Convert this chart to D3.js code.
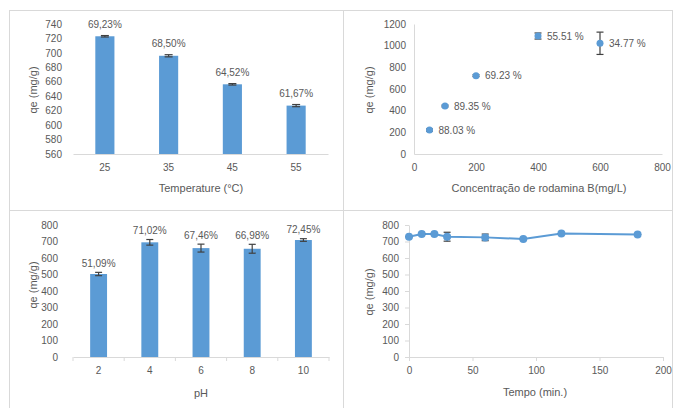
<!DOCTYPE html>
<html>
<head>
<meta charset="utf-8">
<script src="https://cdn.jsdelivr.net/npm/d3@7"></script>
<style>
  body { margin: 0; background: #fff; }
  svg text { font-family: "Liberation Sans", Arial, sans-serif; fill: #595959; }
</style>
</head>
<body>
<div id="chart"></div>
<script>
// panel (a) temperature
const temps = ["25", "35", "45", "55"];
const tempQe = [723, 696, 656.5, 627];
const tempErr = [1, 1.5, 1, 1.5];
const tempPct = ["69,23%", "68,50%", "64,52%", "61,67%"];
const tempTicks = [560, 580, 600, 620, 640, 660, 680, 700, 720, 740];

// panel (b) concentration
const conc = [50, 100, 200, 400, 600];
const concQe = [221, 443, 723, 1089, 1022];
const concErr = [10, 8, 8, 28, 103];
const concPct = ["88.03 %", "89.35 %", "69.23 %", "55.51 %", "34.77 %"];

// panel (c) pH
const phs = ["2", "4", "6", "8", "10"];
const phQe = [503, 695, 660, 656, 709];
const phErr = [10, 17, 24, 27, 8];
const phPct = ["51,09%", "71,02%", "67,46%", "66,98%", "72,45%"];

// panel (d) time
const times = [0, 10, 20, 30, 60, 90, 120, 180];
const timeQe = [729, 745, 745, 729, 725, 715, 748, 742];
const timeErr = [4, 4, 4, 27, 20, 4, 4, 4];

const W = 677, H = 408;
const blue = "#5B9BD5", errCol = "#404040", lineCol = "#d9d9d9";

const svg = d3.select("#chart").append("svg")
  .attr("width", W).attr("height", H);

// panel frames
const frames = [[9, 10, 343, 210], [343, 10, 672, 210], [9, 210, 343, 410], [343, 210, 672, 410]];
svg.selectAll("rect.frame").data(frames).join("rect")
  .attr("class", "frame")
  .attr("x", d => d[0] + 0.5).attr("y", d => d[1] + 0.5)
  .attr("width", d => d[2] - d[0]).attr("height", d => d[3] - d[1])
  .attr("fill", "none").attr("stroke", lineCol);

function styleAxis(g) {
  g.selectAll(".domain").attr("stroke", lineCol);
  g.selectAll(".tick line").attr("stroke", lineCol);
  g.selectAll(".tick text").attr("fill", "#595959").style("font-size", "10px")
    .style("font-family", "Liberation Sans, Arial, sans-serif");
}

function yTitle(x, y, txt) {
  svg.append("text").attr("transform", `translate(${x},${y}) rotate(-90)`)
    .attr("text-anchor", "middle").attr("dy", "0.35em")
    .style("font-size", "11px").text(txt);
}
function xTitle(x, y, txt) {
  svg.append("text").attr("x", x).attr("y", y).attr("text-anchor", "middle")
    .attr("dy", "0.35em").style("font-size", "11px").text(txt);
}

function errorBars(g, xs, ys, es, y, cap) {
  const eb = g.append("g").attr("stroke", errCol).attr("stroke-width", 1.2);
  xs.forEach((xv, i) => {
    const y1 = y(ys[i] + es[i]), y2 = y(ys[i] - es[i]);
    eb.append("line").attr("x1", xv).attr("x2", xv).attr("y1", y1).attr("y2", y2);
    eb.append("line").attr("x1", xv - cap).attr("x2", xv + cap).attr("y1", y1).attr("y2", y1);
    eb.append("line").attr("x1", xv - cap).attr("x2", xv + cap).attr("y1", y2).attr("y2", y2);
  });
}

// ---------- panel (a) ----------
{
  const x = d3.scaleBand().domain(temps).range([73, 328]).paddingInner(0.7).paddingOuter(0.35);
  const y = d3.scaleLinear().domain([560, 740]).range([154, 24]);
  const gx = svg.append("g").attr("transform", "translate(0,154)")
    .call(d3.axisBottom(x).tickSize(0).tickPadding(10));
  styleAxis(gx);
  const gy = svg.append("g").attr("transform", "translate(66,0)")
    .call(d3.axisLeft(y).tickValues(tempTicks).tickSize(0).tickPadding(4));
  gy.select(".domain").remove();
  styleAxis(gy);
  svg.append("g").selectAll("rect").data(temps).join("rect")
    .attr("x", d => x(d)).attr("width", x.bandwidth())
    .attr("y", (d, i) => y(tempQe[i])).attr("height", (d, i) => 154 - y(tempQe[i]))
    .attr("fill", blue);
  errorBars(svg, temps.map(d => x(d) + x.bandwidth() / 2), tempQe, tempErr, y, 4);
  svg.append("g").selectAll("text").data(tempPct).join("text")
    .attr("x", (d, i) => x(temps[i]) + x.bandwidth() / 2)
    .attr("y", (d, i) => y(tempQe[i] + tempErr[i]) - 11)
    .attr("text-anchor", "middle").attr("dy", "0.35em")
    .style("font-size", "10px").text(d => d);
  yTitle(33, 90, "qe (mg/g)");
  xTitle(201, 188, "Temperature (°C)");
}

// ---------- panel (b) ----------
{
  const x = d3.scaleLinear().domain([0, 800]).range([414, 662]);
  const y = d3.scaleLinear().domain([0, 1200]).range([154, 24]);
  const gx = svg.append("g").attr("transform", "translate(0,154)")
    .call(d3.axisBottom(x).ticks(4).tickFormat(d3.format("d")).tickSize(0).tickPadding(10).tickSizeOuter(0));
  styleAxis(gx);
  const gy = svg.append("g").attr("transform", "translate(414,0)")
    .call(d3.axisLeft(y).ticks(6).tickFormat(d3.format("d")).tickSize(0).tickPadding(8).tickSizeOuter(0));
  styleAxis(gy);
  errorBars(svg, conc.map(x), concQe, concErr, y, 3.5);
  svg.append("g").selectAll("circle").data(conc).join("circle")
    .attr("cx", d => x(d)).attr("cy", (d, i) => y(concQe[i])).attr("r", 3.5)
    .attr("fill", blue);
  svg.append("g").selectAll("text").data(concPct).join("text")
    .attr("x", (d, i) => x(conc[i]) + 9).attr("y", (d, i) => y(concQe[i]))
    .attr("dy", "0.35em").style("font-size", "10px").text(d => d);
  yTitle(369, 90, "qe (mg/g)");
  xTitle(539, 188, "Concentração de rodamina B(mg/L)");
}

// ---------- panel (c) ----------
{
  const x = d3.scaleBand().domain(phs).range([73, 329]).paddingInner(0.67).paddingOuter(0.335);
  const y = d3.scaleLinear().domain([0, 800]).range([357, 225]);
  const gx = svg.append("g").attr("transform", "translate(0,357)")
    .call(d3.axisBottom(x).tickSize(0).tickPadding(10));
  styleAxis(gx);
  // category boundary ticks
  const step = (329 - 73) / phs.length;
  svg.append("g").selectAll("line").data(d3.range(phs.length + 1)).join("line")
    .attr("x1", i => 73 + i * step).attr("x2", i => 73 + i * step)
    .attr("y1", 357).attr("y2", 361).attr("stroke", lineCol);
  const gy = svg.append("g").attr("transform", "translate(62,0)")
    .call(d3.axisLeft(y).ticks(8).tickSize(0).tickPadding(4));
  gy.select(".domain").remove();
  styleAxis(gy);
  svg.append("g").selectAll("rect").data(phs).join("rect")
    .attr("x", d => x(d)).attr("width", x.bandwidth())
    .attr("y", (d, i) => y(phQe[i])).attr("height", (d, i) => 357 - y(phQe[i]))
    .attr("fill", blue);
  errorBars(svg, phs.map(d => x(d) + x.bandwidth() / 2), phQe, phErr, y, 3.5);
  svg.append("g").selectAll("text").data(phPct).join("text")
    .attr("x", (d, i) => x(phs[i]) + x.bandwidth() / 2)
    .attr("y", (d, i) => y(phQe[i] + phErr[i]) - 9)
    .attr("text-anchor", "middle").attr("dy", "0.35em")
    .style("font-size", "10px").text(d => d);
  yTitle(33, 285, "qe (mg/g)");
  xTitle(201, 393, "pH");
}

// ---------- panel (d) ----------
{
  const x = d3.scaleLinear().domain([0, 200]).range([409, 663]);
  const y = d3.scaleLinear().domain([0, 800]).range([357, 225]);
  const gx = svg.append("g").attr("transform", "translate(0,357)")
    .call(d3.axisBottom(x).ticks(4).tickSize(4).tickPadding(6).tickSizeOuter(0));
  styleAxis(gx);
  const gy = svg.append("g").attr("transform", "translate(409,0)")
    .call(d3.axisLeft(y).ticks(8).tickSize(4).tickPadding(6).tickSizeOuter(0));
  styleAxis(gy);
  svg.append("path").datum(times)
    .attr("d", d3.line().x(d => x(d)).y((d, i) => y(timeQe[i])))
    .attr("fill", "none").attr("stroke", blue).attr("stroke-width", 2);
  errorBars(svg, times.map(x), timeQe, timeErr.map(e => e > 5 ? e : 0), y, 3.5);
  svg.append("g").selectAll("circle").data(times).join("circle")
    .attr("cx", d => x(d)).attr("cy", (d, i) => y(timeQe[i])).attr("r", 4)
    .attr("fill", blue);
  yTitle(369, 292, "qe (mg/g)");
  xTitle(535, 392, "Tempo (min.)");
}
</script>
</body>
</html>
